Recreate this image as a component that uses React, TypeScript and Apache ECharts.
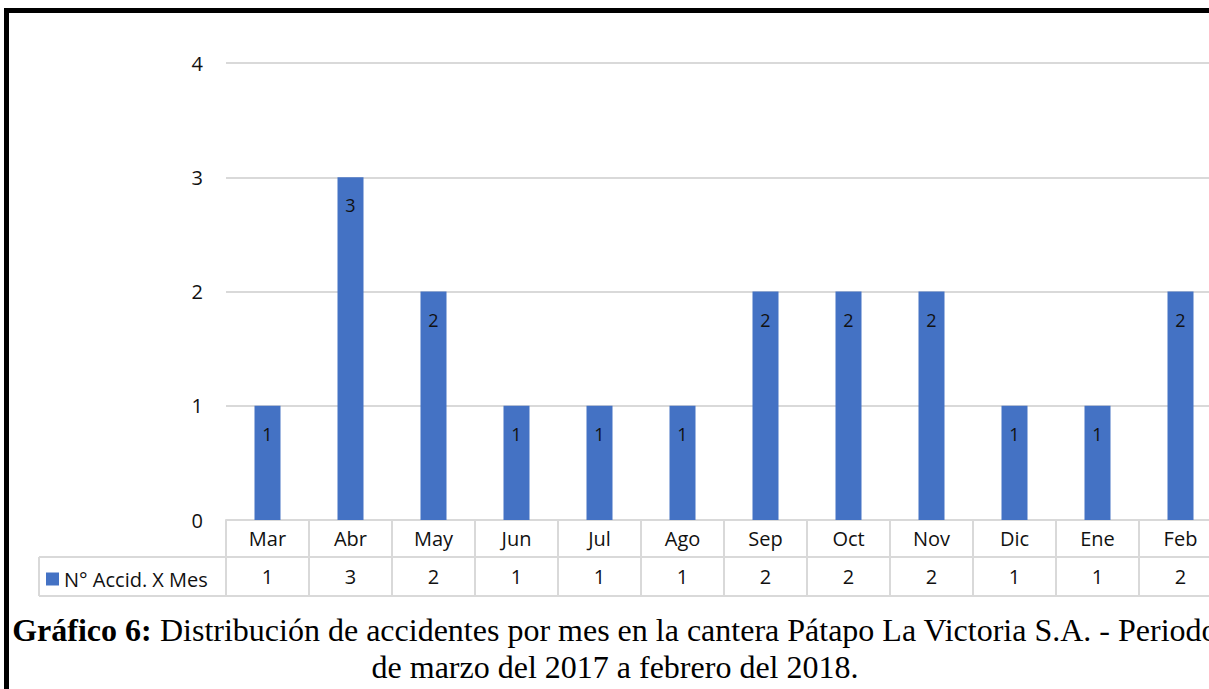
import React, { useEffect, useRef } from "react";
import * as echarts from "echarts";

const months = ["Mar", "Abr", "May", "Jun", "Jul", "Ago", "Sep", "Oct", "Nov", "Dic", "Ene", "Feb"];
const accidents = [1, 3, 2, 1, 1, 1, 2, 2, 2, 1, 1, 2];
const yTicks = { min: 0, max: 4, interval: 1 };
const seriesName = "N° Accid. X Mes";
const captionBold = "Gráfico 6:";
const captionLine1 = " Distribución de accidentes por mes en la cantera Pátapo La Victoria S.A. - Periodo";
const captionLine2 = "de marzo del 2017 a febrero del 2018.";

const GRID_LEFT = 226;
const GRID_TOP = 63;
const GRID_H = 457;
const CHART_W = 1240;
const GRID_W = 996;
const TABLE_ROW = 38;
const LINE = "#D9D9D9";
const TXT = "#111";
const SANS = "'Open Sans', sans-serif";

export default function App() {
  const ref = useRef<HTMLDivElement>(null);
  useEffect(() => {
    if (!ref.current) return;
    const chart = echarts.init(ref.current, undefined, { renderer: "svg" });
    const bottomY = GRID_TOP + GRID_H;
    chart.setOption({
      animation: false,
      backgroundColor: "transparent",
      title: {
        text: `{b|${captionBold}}${captionLine1}\n${captionLine2}`,
        left: 610,
        top: 606,
        textAlign: "center",
        textStyle: {
          fontFamily: "'Liberation Serif', serif",
          fontSize: 32,
          fontWeight: "normal",
          color: "#000",
          lineHeight: 37,
          rich: {
            b: { fontFamily: "'Liberation Serif', serif", fontSize: 32, fontWeight: "bold", color: "#000", lineHeight: 37 },
          },
        },
      },
      legend: {
        left: 46,
        top: bottomY + TABLE_ROW + 11,
        icon: "rect",
        itemWidth: 13,
        itemHeight: 13,
        itemGap: 5,
        padding: 0,
        textStyle: { fontFamily: SANS, fontSize: 20, color: TXT },
        data: [seriesName],
      },
      grid: { left: GRID_LEFT, top: GRID_TOP, width: GRID_W, height: GRID_H, containLabel: false },
      xAxis: [
        {
          type: "category",
          data: months,
          position: "bottom",
          axisLine: { show: true, lineStyle: { color: LINE, width: 2 } },
          axisTick: { show: true, interval: 0, length: TABLE_ROW * 2, lineStyle: { color: LINE, width: 2 } },
          axisLabel: { interval: 0, margin: 8, fontFamily: SANS, fontSize: 20, color: TXT },
          splitLine: { show: false },
        },
        {
          type: "category",
          data: months,
          position: "bottom",
          offset: TABLE_ROW - 1,
          axisLine: { show: true, lineStyle: { color: LINE, width: 2 } },
          axisTick: { show: false },
          axisLabel: {
            interval: 0,
            margin: 9,
            fontFamily: SANS,
            fontSize: 20,
            color: TXT,
            formatter: (_v: string, i: number) => String(accidents[i]),
          },
        },
        {
          type: "category",
          data: months,
          position: "bottom",
          offset: TABLE_ROW * 2,
          axisLine: { show: true, lineStyle: { color: LINE, width: 2 } },
          axisTick: { show: false },
          axisLabel: { show: false },
        },
      ],
      yAxis: {
        type: "value",
        min: yTicks.min,
        max: yTicks.max,
        interval: yTicks.interval,
        axisLine: { show: false },
        axisTick: { show: false },
        axisLabel: { margin: 23, fontFamily: SANS, fontSize: 20, color: TXT },
        splitLine: { lineStyle: { color: LINE, width: 2 } },
      },
      graphic: [
        { type: "line", shape: { x1: 39, y1: bottomY + TABLE_ROW - 1, x2: GRID_LEFT, y2: bottomY + TABLE_ROW - 1 }, style: { stroke: LINE, lineWidth: 2 } },
        { type: "line", shape: { x1: 39, y1: bottomY + TABLE_ROW * 2, x2: GRID_LEFT, y2: bottomY + TABLE_ROW * 2 }, style: { stroke: LINE, lineWidth: 2 } },
        { type: "line", shape: { x1: 39, y1: bottomY + TABLE_ROW - 1, x2: 39, y2: bottomY + TABLE_ROW * 2 }, style: { stroke: LINE, lineWidth: 2 } },
      ],
      series: [
        {
          name: seriesName,
          type: "bar",
          data: accidents,
          xAxisIndex: 0,
          barWidth: 26,
          itemStyle: { color: "#4472C4" },
          label: {
            show: true,
            position: "insideTop",
            distance: 19,
            fontFamily: SANS,
            fontSize: 18,
            color: TXT,
          },
        },
      ],
    });
    return () => chart.dispose();
  }, []);

  return (
    <div style={{ position: "fixed", left: 0, top: 0, width: 1209, height: 689, overflow: "hidden", background: "#fff" }}>
      <div
        style={{
          position: "absolute",
          left: 4,
          top: 8,
          width: 1400,
          height: 800,
          borderTop: "5px solid #000",
          borderLeft: "5px solid #000",
        }}
      />
      <div ref={ref} style={{ position: "absolute", left: 0, top: 0, width: CHART_W, height: 689 }} />
    </div>
  );
}
